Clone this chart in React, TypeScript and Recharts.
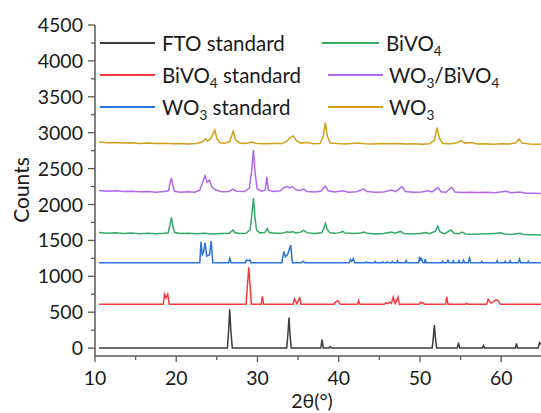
import { CartesianGrid, Line, LineChart, XAxis, YAxis } from "recharts";

type Pt = [number, number];

const ftoStd: Pt[] = [
  [10.5, 0], [26.3, 0], [26.45, 250], [26.58, 540], [26.72, 250], [26.9, 0],
  [33.6, 0], [33.75, 200], [33.88, 425], [34.0, 200], [34.15, 0],
  [37.8, 0], [37.95, 120], [38.1, 0], [38.8, 0], [38.95, 20], [39.1, 0],
  [51.5, 0], [51.65, 150], [51.77, 320], [51.9, 150], [52.05, 0],
  [54.6, 0], [54.75, 75], [54.9, 0], [57.7, 0], [57.82, 35], [57.95, 0],
  [61.75, 0], [61.88, 65], [62.0, 0], [64.55, 0], [64.72, 75], [64.9, 50],
];

const bivo4Std: Pt[] = [
  [10.5, 610], [18.4, 610], [18.55, 750], [18.75, 700], [18.95, 750], [19.15, 610],
  [28.6, 610], [28.75, 850], [28.93, 1125], [29.1, 850], [29.25, 610],
  [30.45, 610], [30.6, 720], [30.75, 610], [34.4, 610], [34.55, 685], [34.85, 620],
  [35.2, 700], [35.35, 610], [39.4, 610], [39.7, 650], [39.9, 660], [40.2, 610],
  [42.3, 610], [42.45, 660], [42.6, 610], [45.6, 610], [45.8, 630], [46.0, 620],
  [46.3, 640], [46.5, 625], [46.7, 710], [46.95, 620], [47.3, 710], [47.45, 610],
  [49.9, 610], [50.05, 640], [50.2, 625], [50.4, 630], [50.55, 610],
  [53.15, 610], [53.3, 715], [53.45, 610], [55.6, 610], [55.75, 625], [55.9, 610],
  [58.2, 610], [58.4, 680], [58.7, 630], [59.0, 640], [59.3, 670], [59.5, 670],
  [59.7, 650], [59.9, 610], [64.9, 610],
];

const wo3Std: Pt[] = [
  [10.5, 1190], [22.9, 1190], [23.05, 1480], [23.2, 1300], [23.35, 1330], [23.55, 1470],
  [23.75, 1280], [24.1, 1300], [24.3, 1490], [24.5, 1190], [26.45, 1190], [26.6, 1250],
  [26.75, 1190], [28.5, 1190], [28.65, 1230], [28.85, 1215], [29.05, 1230], [29.2, 1190],
  [33.0, 1190], [33.25, 1345], [33.45, 1270], [33.7, 1300], [34.1, 1435], [34.3, 1190],
  [35.4, 1190], [35.6, 1210], [35.8, 1190], [41.3, 1190], [41.45, 1230], [41.6, 1210],
  [41.8, 1250], [41.95, 1190], [43.3, 1190], [43.4, 1200], [43.5, 1190], [44.4, 1190],
  [44.5, 1205], [44.6, 1190], [45.3, 1190], [45.4, 1200], [45.5, 1190], [45.9, 1190],
  [46.0, 1200], [46.1, 1190], [46.5, 1190], [46.6, 1205], [46.7, 1190], [47.15, 1190],
  [47.25, 1215], [47.35, 1190], [48.2, 1190], [48.3, 1220], [48.4, 1190], [49.85, 1190],
  [49.95, 1275], [50.05, 1225], [50.2, 1245], [50.35, 1190], [50.55, 1190], [50.65, 1240],
  [50.75, 1190], [52.7, 1190], [52.8, 1210], [52.9, 1190], [53.3, 1190], [53.45, 1225],
  [53.6, 1190], [54.0, 1190], [54.1, 1215], [54.2, 1190], [54.7, 1190], [54.8, 1220],
  [54.9, 1190], [55.25, 1190], [55.35, 1225], [55.5, 1190], [55.95, 1190], [56.1, 1255],
  [56.25, 1190], [57.5, 1190], [57.6, 1205], [57.7, 1190], [59.4, 1190], [59.5, 1215],
  [59.6, 1190], [60.4, 1190], [60.5, 1210], [60.6, 1190], [61.0, 1190], [61.1, 1215],
  [61.2, 1190], [62.1, 1190], [62.25, 1240], [62.4, 1190], [63.25, 1190], [63.35, 1210],
  [63.45, 1190], [64.9, 1190],
];

const bivo4: Pt[] = [
  [10.5, 1610], [11.5, 1598], [12.5, 1605], [13.5, 1596], [14.5, 1603], [15.5, 1594],
  [16.5, 1600], [17.5, 1592], [18.5, 1598], [19.0, 1605], [19.2, 1700], [19.4, 1820],
  [19.6, 1690], [19.8, 1610], [20.5, 1595], [21.5, 1600], [22.5, 1592], [23.5, 1598],
  [24.5, 1590], [25.5, 1596], [26.5, 1600], [26.85, 1630], [27.0, 1645], [27.2, 1610],
  [27.8, 1595], [28.6, 1600], [29.1, 1650], [29.3, 1850], [29.5, 2090], [29.7, 1800],
  [29.9, 1640], [30.3, 1605], [30.9, 1610], [31.2, 1665], [31.45, 1610], [32.2, 1600],
  [33.0, 1598], [33.65, 1620], [34.0, 1610], [34.3, 1622], [34.7, 1605], [35.3, 1615],
  [35.7, 1640], [36.1, 1608], [37.0, 1595], [37.9, 1605], [38.2, 1680], [38.35, 1735],
  [38.55, 1660], [38.9, 1605], [39.6, 1598], [40.2, 1612], [40.5, 1625], [40.8, 1603],
  [41.8, 1597], [42.7, 1602], [43.1, 1615], [43.5, 1598], [44.5, 1590], [45.5, 1596],
  [46.5, 1615], [46.9, 1600], [47.6, 1625], [48.0, 1597], [49.0, 1590], [50.0, 1595],
  [50.65, 1610], [51.2, 1592], [51.9, 1630], [52.2, 1700], [52.45, 1620], [53.0, 1592],
  [53.8, 1645], [54.2, 1600], [54.8, 1592], [55.2, 1615], [55.6, 1590], [56.5, 1585],
  [57.5, 1590], [58.5, 1594], [59.4, 1598], [59.9, 1605], [60.4, 1590], [61.3, 1583],
  [62.3, 1600], [62.8, 1582], [63.8, 1578], [64.9, 1576],
];

const wo3Bivo4: Pt[] = [
  [10.5, 2195], [11.5, 2185], [12.5, 2190], [13.5, 2180], [14.5, 2186], [15.5, 2176],
  [16.5, 2182], [17.5, 2172], [18.5, 2180], [19.05, 2190], [19.2, 2280], [19.4, 2370],
  [19.6, 2260], [19.8, 2185], [20.5, 2172], [21.5, 2176], [22.3, 2170], [22.9, 2200],
  [23.2, 2300], [23.55, 2400], [23.8, 2310], [24.1, 2340], [24.4, 2240], [24.9, 2200],
  [25.6, 2178], [26.5, 2182], [27.0, 2215], [27.4, 2185], [28.4, 2180], [29.0, 2230],
  [29.3, 2480], [29.5, 2760], [29.7, 2450], [29.95, 2220], [30.5, 2185], [30.95, 2200],
  [31.15, 2385], [31.35, 2200], [32.0, 2180], [32.8, 2190], [33.2, 2230], [33.65, 2250],
  [34.0, 2232], [34.3, 2250], [34.7, 2205], [35.3, 2195], [35.7, 2215], [36.1, 2180],
  [37.0, 2175], [37.8, 2185], [38.35, 2255], [38.7, 2190], [39.5, 2175], [40.5, 2190],
  [41.2, 2172], [42.2, 2178], [43.1, 2215], [43.5, 2180], [44.5, 2170], [45.5, 2175],
  [46.5, 2200], [47.0, 2180], [47.8, 2250], [48.2, 2180], [49.2, 2170], [50.2, 2175],
  [50.9, 2190], [51.5, 2175], [52.2, 2235], [52.6, 2178], [53.2, 2170], [53.9, 2240],
  [54.3, 2175], [55.2, 2168], [56.2, 2172], [57.2, 2166], [58.2, 2170], [59.2, 2163],
  [60.6, 2185], [61.2, 2163], [62.3, 2175], [63.0, 2158], [64.0, 2156], [64.9, 2152],
];

const wo3: Pt[] = [
  [10.5, 2870], [11.5, 2860], [12.5, 2865], [13.5, 2855], [14.5, 2860], [15.5, 2850],
  [16.5, 2856], [17.5, 2848], [18.5, 2853], [19.5, 2846], [20.5, 2850], [21.5, 2844],
  [22.5, 2850], [23.2, 2870], [23.6, 2915], [23.85, 2885], [24.1, 2900], [24.4, 2950],
  [24.75, 3040], [25.0, 2920], [25.4, 2860], [26.0, 2852], [26.6, 2880], [27.0, 3020],
  [27.3, 2900], [27.8, 2855], [28.5, 2850], [29.35, 2870], [29.9, 2848], [31.0, 2845],
  [32.0, 2850], [33.0, 2848], [33.6, 2880], [33.95, 2925], [34.4, 2955], [34.8, 2890],
  [35.3, 2855], [36.1, 2862], [36.8, 2846], [37.7, 2850], [38.1, 2950], [38.35, 3140],
  [38.6, 2950], [38.95, 2855], [39.8, 2848], [40.8, 2844], [41.6, 2850], [42.4, 2858],
  [43.2, 2846], [44.2, 2842], [45.2, 2850], [46.2, 2845], [47.2, 2848], [48.2, 2842],
  [49.2, 2846], [50.2, 2840], [51.2, 2845], [51.8, 2900], [52.1, 3070], [52.4, 2920],
  [52.8, 2850], [53.8, 2845], [54.6, 2860], [55.1, 2890], [55.5, 2855], [56.4, 2862],
  [57.0, 2842], [58.0, 2846], [59.0, 2840], [60.0, 2845], [61.0, 2842], [61.8, 2860],
  [62.2, 2910], [62.6, 2855], [63.5, 2842], [64.9, 2840],
];

const yTicks = [0, 250, 500, 750, 1000, 1250, 1500, 1750, 2000, 2250, 2500, 2750, 3000, 3250, 3500, 3750, 4000, 4250, 4500];
const xTicks = [10, 15, 20, 25, 30, 35, 40, 45, 50, 55, 60];

const series = [
  { name: "FTO standard", data: ftoStd, color: "#3d3d3d" },
  { name: "BiVO4 standard", data: bivo4Std, color: "#f5393c" },
  { name: "WO3 standard", data: wo3Std, color: "#2a72dc" },
  { name: "BiVO4", data: bivo4, color: "#36a96a" },
  { name: "WO3/BiVO4", data: wo3Bivo4, color: "#b069ea" },
  { name: "WO3", data: wo3, color: "#d3a01c" },
];

const AXIS = "#5a5a5a";
const FONT = "Lato, 'Open Sans', sans-serif";

const Sub = ({ c }: { c: string }) => (
  <sub style={{ fontSize: "0.66em", verticalAlign: "-0.35em", lineHeight: 0 }}>{c}</sub>
);

const formatName = (name: string) => {
  const parts = name.split(/(\d)/);
  return parts.map((p, i) => (/\d/.test(p) ? <Sub key={i} c={p} /> : <span key={i}>{p}</span>));
};

const YTick = (props: any) => {
  const { x, y, payload } = props;
  const major = payload.value % 500 === 0;
  return (
    <g>
      <line x1={x} x2={x - (major ? 7 : 4)} y1={y} y2={y} stroke={AXIS} strokeWidth={1.3} />
      {major && (
        <text x={x - 12} y={y} dy="0.36em" textAnchor="end" fontSize={19.5} fill="#1a1a1a" fontFamily={FONT}>
          {payload.value}
        </text>
      )}
    </g>
  );
};

const XTick = (props: any) => {
  const { x, y, payload } = props;
  const major = payload.value % 10 === 0;
  return (
    <g>
      <line x1={x} x2={x} y1={y} y2={y + (major ? 6 : 4)} stroke={AXIS} strokeWidth={1.3} />
      {major && (
        <text x={x} y={y + 22} dy="0.36em" textAnchor="middle" fontSize={19.5} fill="#1a1a1a" fontFamily={FONT}>
          {payload.value}
        </text>
      )}
    </g>
  );
};

const TopTick = (props: any) => {
  const { x, y, payload } = props;
  const major = payload.value % 10 === 0;
  return <line x1={x} x2={x} y1={y} y2={y + (major ? 6 : 4)} stroke={AXIS} strokeWidth={1.3} />;
};

// legend rows/columns in page pixels
const legendPos = [
  { left: 100, top: 43, line: 55, gap: 7 },
  { left: 100, top: 75, line: 55, gap: 7 },
  { left: 100, top: 107, line: 55, gap: 7 },
  { left: 322, top: 43, line: 57, gap: 7 },
  { left: 328, top: 75, line: 55, gap: 6 },
  { left: 328, top: 107, line: 55, gap: 6 },
];

export default function App() {
  return (
    <div
      style={{
        position: "fixed",
        left: 0,
        top: 0,
        width: 541,
        height: 413,
        background: "#fff",
        fontFamily: FONT,
        color: "#1a1a1a",
      }}
    >
      <LineChart width={541} height={413} margin={{ top: 25, right: 0, bottom: 0, left: 0 }}>
        <CartesianGrid stroke="none" />
        <XAxis
          xAxisId="b"
          type="number"
          dataKey="x"
          domain={[10, 64.9]}
          ticks={xTicks}
          allowDataOverflow
          height={57}
          tickSize={0}
          tickMargin={0}
          tickLine={false}
          axisLine={{ stroke: AXIS, strokeWidth: 1.5 }}
          tick={<XTick />}
          interval={0}
        />
        <XAxis
          xAxisId="t"
          orientation="top"
          type="number"
          dataKey="x"
          domain={[10, 64.9]}
          ticks={xTicks}
          allowDataOverflow
          height={0}
          tickSize={0}
          tickMargin={0}
          tickLine={false}
          axisLine={{ stroke: AXIS, strokeWidth: 1.5 }}
          tick={<TopTick />}
          interval={0}
        />
        <YAxis
          type="number"
          domain={[-110, 4500]}
          ticks={yTicks}
          allowDataOverflow
          width={95}
          tickSize={0}
          tickMargin={0}
          tickLine={false}
          axisLine={{ stroke: AXIS, strokeWidth: 1.5 }}
          tick={<YTick />}
          interval={0}
        />
        {series.map((s) => (
          <Line
            key={s.name}
            xAxisId="b"
            data={s.data.map(([x, y]) => ({ x, y }))}
            dataKey="y"
            type="linear"
            stroke={s.color}
            strokeWidth={1.5}
            dot={false}
            isAnimationActive={false}
          />
        ))}
      </LineChart>

      {series.map((s, i) => {
        const p = legendPos[i];
        return (
          <div
            key={s.name}
            style={{
              position: "absolute",
              left: p.left,
              top: p.top - 14,
              height: 28,
              display: "flex",
              alignItems: "center",
              fontSize: 20.5,
              whiteSpace: "nowrap",
            }}
          >
            <span style={{ display: "inline-block", width: p.line, height: 2, background: s.color, marginRight: p.gap }} />
            <span>{formatName(s.name)}</span>
          </div>
        );
      })}

      <div
        style={{
          position: "absolute",
          left: 20,
          top: 190,
          transform: "translate(-50%, -50%) rotate(-90deg)",
          fontSize: 21,
          whiteSpace: "nowrap",
        }}
      >
        Counts
      </div>
      <div
        style={{
          position: "absolute",
          left: 312,
          top: 400,
          transform: "translate(-50%, -50%)",
          fontSize: 19.5,
          whiteSpace: "nowrap",
        }}
      >
        2θ(°)
      </div>
    </div>
  );
}
